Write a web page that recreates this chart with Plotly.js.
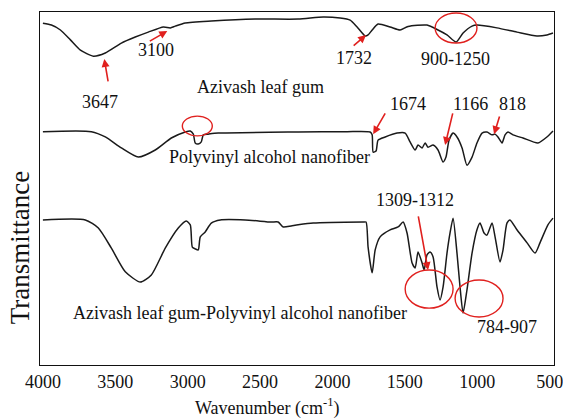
<!DOCTYPE html>
<html>
<head>
<meta charset="utf-8">
<script src="https://cdn.plot.ly/plotly-3.0.1.min.js"></script>
<style>html,body{margin:0;padding:0;background:#fff;}#chart{width:563px;height:419px;}</style>
</head>
<body>
<div id="chart"></div>
<script>
// Azivash leaf gum (top spectrum)
const gumWavenumber = [4000,3941,3879,3810,3741,3652,3569,3458,3362,3272,3168,3120,3086,3017,2837,2534,2237,2064,1947,1878,1830,1774,1754,1726,1685,1602,1533,1478,1347,1271,1209,1146,1098,1036,1002,864,726,588,519,477];
const gumT = [96.8,96.3,94.9,92.1,89.2,87.5,88.4,91.2,92.9,94.3,95.75,95.5,96.0,96.9,97.45,98.0,98.0,98.6,98.3,97.7,95.75,93.2,93.5,94.9,96.6,95.75,94.9,95.9,96.3,94.9,93.5,91.5,94.05,96.0,96.3,95.5,94.3,93.2,93.5,94.05];

// Polyvinyl alcohol nanofiber (middle spectrum)
const pvaWavenumber = [4000,3665,3569,3458,3341,3224,3113,3017,2982,2961,2948,2927,2906,2892,2858,2789,2237,1900,1740,1726,1719,1699,1685,1636,1554,1498,1464,1429,1409,1381,1360,1340,1305,1271,1236,1216,1195,1167,1140,1105,1071,1036,1002,967,933,898,877,857,829,808,788,753,684,581,519,477];
const pvaT = [66.1,66.1,64.6,61.5,58.9,60.9,64.3,66.0,66.3,65.4,62.9,62.6,63.2,65.2,65.4,65.7,66.0,66.1,66.0,65.2,60.3,60.6,63.7,64.6,65.7,65.7,63.2,60.9,62.3,61.5,62.9,61.7,62.3,60.9,57.5,58.9,63.7,65.7,64.6,61.5,56.6,58.9,62.9,65.7,66.0,65.2,65.4,64.6,62.9,65.2,66.0,65.2,64.3,62.9,64.6,66.3];

// Azivash leaf gum-Polyvinyl alcohol nanofiber (bottom spectrum)
const blendWavenumber = [4000,3707,3617,3527,3431,3327,3251,3155,3065,3010,2982,2968,2948,2927,2913,2879,2837,2775,2603,2423,2375,2340,2285,2237,2133,1788,1768,1754,1726,1705,1671,1602,1547,1512,1485,1450,1429,1409,1381,1367,1347,1326,1305,1278,1257,1236,1209,1188,1167,1140,1119,1098,1071,1036,1002,981,953,933,898,877,843,822,795,774,726,656,601,567,512,477];
const blendT = [41.1,41.1,38.8,33.1,26.4,23.5,25.5,33.1,38.8,40.8,39.7,33.4,32.9,32.6,36.3,37.7,40.2,41.1,41.1,40.5,40.5,39.1,39.4,39.7,40.2,40.5,40.5,33.4,26.1,32.6,36.3,38.3,39.1,40.5,37.4,28.9,27.5,32.0,28.9,26.9,31.2,32.0,30.6,22.1,18.4,22.1,31.7,37.4,41.6,31.7,22.1,14.7,21.3,31.7,38.3,40.2,37.4,36.8,40.2,36.3,29.2,32.6,40.2,41.1,38.3,34.6,31.7,34.6,39.7,41.6];

const tickValues = [4000,3500,3000,2500,2000,1500,1000,500];
const tickLabels = ["4000","3500","3000","2500","2000","1500","1000","500"];

const serif = "Liberation Serif, Times New Roman, serif";
const red = "#e0201e";

function spectrum(x, y, name) {
  return {x: x, y: y, name: name, type: "scatter", mode: "lines",
          line: {color: "#1a1a1a", width: 1.5, shape: "spline", smoothing: 0.6},
          hoverinfo: "x+y+name", showlegend: false};
}

const traces = [
  spectrum(gumWavenumber, gumT, "Azivash leaf gum"),
  spectrum(pvaWavenumber, pvaT, "Polyvinyl alcohol nanofiber"),
  spectrum(blendWavenumber, blendT, "Azivash leaf gum-Polyvinyl alcohol nanofiber")
];

function label(text, x, y) {
  return {text: text, x: x, y: y, xref: "x", yref: "y", showarrow: false,
          font: {family: serif, size: 18, color: "#111"}, xanchor: "center", yanchor: "middle"};
}
function arrow(x, y, ax, ay) {
  return {text: "", x: x, y: y, ax: ax, ay: ay, xref: "x", yref: "y", axref: "x", ayref: "y",
          showarrow: true, arrowhead: 2, arrowsize: 1, arrowwidth: 1.6, arrowcolor: red};
}
function ring(x0, x1, y0, y1) {
  return {type: "circle", xref: "x", yref: "y", x0: x0, x1: x1, y0: y0, y1: y1,
          line: {color: red, width: 1.4}, fillcolor: "rgba(0,0,0,0)"};
}

const annotations = [
  label("3647", 3603, 74.5),
  label("3100", 3217, 89.2),
  label("1732", 1850, 87.0),
  label("900-1250", 1153, 86.7),
  label("Azivash leaf gum", 2499, 78.8),
  label("1674", 1478, 74.0),
  label("1166", 1050, 74.0),
  label("818", 760, 74.0),
  label("Polyvinyl alcohol nanofiber", 2437, 58.9),
  label("1309-1312", 1429, 46.7),
  label("Azivash leaf gum-Polyvinyl alcohol nanofiber", 2637, 14.7),
  label("784-907", 795, 10.8),
  arrow(3576, 86.7, 3548, 79.9),
  arrow(3141, 94.6, 3272, 91.5),
  arrow(1768, 93.5, 1864, 90.1),
  arrow(1719, 65.4, 1630, 71.7),
  arrow(1222, 62.3, 1167, 71.7),
  arrow(884, 65.4, 843, 70.8),
  arrow(1340, 26.9, 1409, 42.5),
  {text: "Transmittance", xref: "paper", yref: "paper", x: -0.04, y: 0.335, textangle: -90,
   showarrow: false, xanchor: "center", yanchor: "middle",
   font: {family: serif, size: 27, color: "#111"}},
  {text: "Wavenumber (cm<sup>-1</sup>)", xref: "paper", yref: "paper", x: 0.442, y: -0.12,
   showarrow: false, xanchor: "center", yanchor: "middle",
   font: {family: serif, size: 18, color: "#111"}}
];

const shapes = [
  ring(1291, 1002, 91.2, 99.7),
  ring(3037, 2830, 64.9, 70.5),
  ring(1498, 1167, 16.1, 26.9),
  ring(1153, 822, 13.6, 24.1)
];

const layout = {
  width: 563, height: 419,
  margin: {l: 40, r: 9, t: 12, b: 54},
  paper_bgcolor: "#fff", plot_bgcolor: "#fff",
  xaxis: {range: [4020, 470], showgrid: false, zeroline: false, showline: true, mirror: true,
          linecolor: "#111", linewidth: 1.2, ticks: "", tickvals: tickValues, ticktext: tickLabels,
          ticklabeloverflow: "allow",
          tickfont: {family: serif, size: 18, color: "#111"}},
  yaxis: {range: [0, 100], showgrid: false, zeroline: false, showline: true, mirror: true,
          linecolor: "#111", linewidth: 1.2, ticks: "", showticklabels: false},
  annotations: annotations,
  shapes: shapes,
  showlegend: false
};

Plotly.newPlot("chart", traces, layout, {displayModeBar: false, staticPlot: true});
</script>
</body>
</html>
